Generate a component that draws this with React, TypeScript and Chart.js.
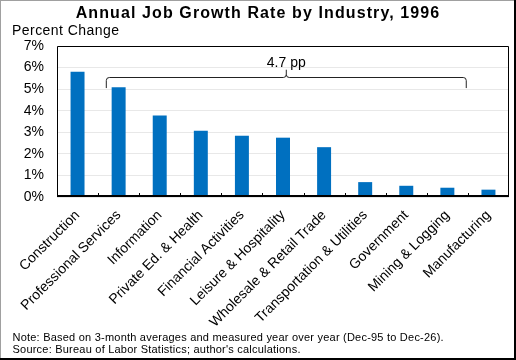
import React, { useEffect, useRef } from "react";
import { Chart, registerables } from "chart.js";

Chart.register(...registerables);

const TITLE = "Annual Job Growth Rate by Industry, 1996";
const Y_TITLE = "Percent Change";
const categories = [
  "Construction",
  "Professional Services",
  "Information",
  "Private Ed. & Health",
  "Financial Activities",
  "Leisure & Hospitality",
  "Wholesale & Retail Trade",
  "Transportation & Utilities",
  "Government",
  "Mining & Logging",
  "Manufacturing",
];
const growth = [5.81, 5.09, 3.78, 3.07, 2.84, 2.75, 2.31, 0.69, 0.52, 0.43, 0.34];
const yMin = 0;
const yMax = 7;
const yStep = 1;
const NOTES = [
  "Note: Based on 3-month averages and measured year over year (Dec-95 to Dec-26).",
  "Source: Bureau of Labor Statistics; author's calculations.",
];
const BRACKET_FROM = 1;
const BRACKET_TO = 9;
const BRACKET_LABEL = "4.7 pp";
const BRACKET_LEVEL = 5.55;
const BRACKET_END = 5.05;
const BRACKET_TIP = 5.9;

const FONT = '"Liberation Sans", Arial, sans-serif';
const BAR_COLOR = "#0070C0";

const W = 516;
const H = 360;

const decorPlugin = {
  id: "decor",
  afterDraw(chart: any) {
    const { ctx, chartArea, scales } = chart;
    const x = scales.x;
    const y = scales.y;
    const { left, right, top, bottom } = chartArea;
    ctx.save();

    // plot border
    ctx.strokeStyle = "#000";
    ctx.lineWidth = 1;
    ctx.beginPath();
    ctx.moveTo(left + 0.5, bottom);
    ctx.lineTo(left + 0.5, top + 0.5);
    ctx.lineTo(right - 0.5, top + 0.5);
    ctx.lineTo(right - 0.5, bottom);
    ctx.stroke();
    ctx.lineWidth = 2;
    ctx.beginPath();
    ctx.moveTo(left, bottom - 1);
    ctx.lineTo(right, bottom - 1);
    ctx.stroke();

    // inner category tick marks
    ctx.lineWidth = 1;
    ctx.beginPath();
    for (let i = 1; i < categories.length; i++) {
      const px = Math.round((x.getPixelForValue(i - 1) + x.getPixelForValue(i)) / 2) + 0.5;
      ctx.moveTo(px, bottom - 1);
      ctx.lineTo(px, bottom - 4);
    }
    ctx.stroke();

    // bracket
    const cw = x.getPixelForValue(1) - x.getPixelForValue(0);
    const bl = x.getPixelForValue(BRACKET_FROM) - 0.3 * cw;
    const br = x.getPixelForValue(BRACKET_TO) + 0.46 * cw;
    const by = Math.round(y.getPixelForValue(BRACKET_LEVEL)) + 0.5;
    const be = y.getPixelForValue(BRACKET_END);
    const bt = y.getPixelForValue(BRACKET_TIP);
    const bc = (bl + br) / 2;
    ctx.strokeStyle = "#222";
    ctx.lineWidth = 1;
    ctx.beginPath();
    ctx.moveTo(bl, be);
    ctx.lineTo(bl, by + 3);
    ctx.quadraticCurveTo(bl, by, bl + 3, by);
    ctx.lineTo(bc - 3, by);
    ctx.quadraticCurveTo(bc, by, bc, by - 3);
    ctx.lineTo(bc, bt);
    ctx.moveTo(bc, by - 3);
    ctx.quadraticCurveTo(bc, by, bc + 3, by);
    ctx.lineTo(br - 3, by);
    ctx.quadraticCurveTo(br, by, br, by + 3);
    ctx.lineTo(br, be);
    ctx.stroke();
    ctx.fillStyle = "#000";
    ctx.font = `14px ${FONT}`;
    ctx.textAlign = "center";
    ctx.textBaseline = "alphabetic";
    ctx.fillText(BRACKET_LABEL, bc, bt - 3);

    // titles
    ctx.font = `bold 16px ${FONT}`;
    ctx.textAlign = "center";
    (ctx as any).letterSpacing = "1.1px";
    ctx.fillText(TITLE, W / 2, 17.5);
    ctx.font = `14px ${FONT}`;
    ctx.textAlign = "left";
    (ctx as any).letterSpacing = "0.45px";
    ctx.fillText(Y_TITLE, 12, 35);

    // notes
    ctx.font = `11px ${FONT}`;
    (ctx as any).letterSpacing = "0.22px";
    NOTES.forEach((n, i) => ctx.fillText(n, 12.5, 341 + i * 12));
    (ctx as any).letterSpacing = "0px";

    // frame
    ctx.fillStyle = "#a0a0a0";
    ctx.fillRect(0, 0, W, 1);
    ctx.fillRect(0, 0, 1, H);
    ctx.fillStyle = "#000";
    ctx.fillRect(W - 2, 0, 2, H);
    ctx.fillRect(0, H - 2, W, 2);

    ctx.restore();
  },
};

export default function App() {
  const ref = useRef<HTMLCanvasElement | null>(null);
  useEffect(() => {
    if (!ref.current) return;
    const chart = new Chart(ref.current, {
      type: "bar",
      data: {
        labels: categories,
        datasets: [
          {
            data: growth,
            backgroundColor: BAR_COLOR,
            borderWidth: 0,
            categoryPercentage: 1,
            barPercentage: 0.34,
          },
        ],
      },
      options: {
        responsive: false,
        animation: false,
        devicePixelRatio: 1,
        layout: { padding: { top: 46, right: 7, left: 0, bottom: 0 } },
        plugins: {
          legend: { display: false },
          title: { display: false },
          tooltip: { enabled: false },
        },
        scales: {
          x: {
            grid: { display: false },
            border: { display: false },
            ticks: {
              color: "#000",
              font: { family: FONT, size: 14 },
              minRotation: 45,
              maxRotation: 45,
              autoSkip: false,
              padding: 2,
            },
            afterFit: (s: any) => {
              s.height = 163;
            },
          },
          y: {
            min: yMin,
            max: yMax,
            grid: { color: "#e8e8e8", drawTicks: false },
            border: { display: false },
            ticks: {
              stepSize: yStep,
              color: "#000",
              font: { family: FONT, size: 14 },
              padding: 13,
              callback: (v: any) => `${v}%`,
            },
            afterFit: (s: any) => {
              s.width = 57;
            },
          },
        },
      },
      plugins: [decorPlugin],
    });
    return () => chart.destroy();
  }, []);
  return (
    <div style={{ position: "fixed", left: 0, top: 0, width: W, height: H, background: "#fff" }}>
      <canvas ref={ref} width={W} height={H} style={{ width: W, height: H, display: "block" }} />
    </div>
  );
}
